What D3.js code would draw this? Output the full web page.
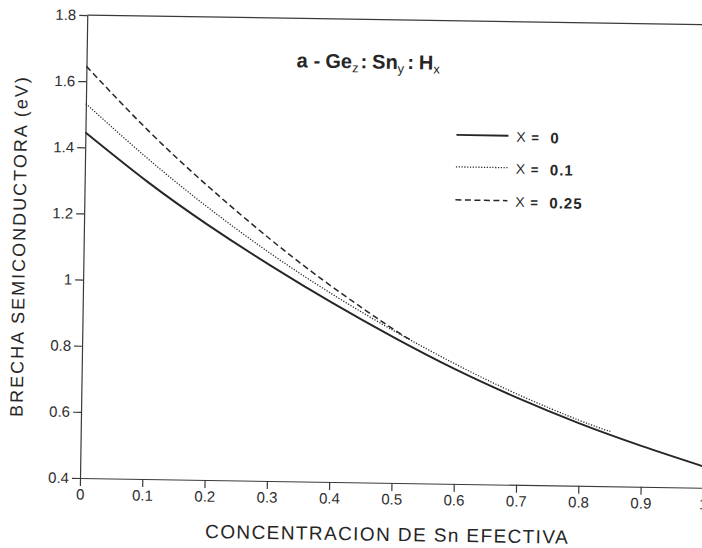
<!DOCTYPE html>
<html>
<head>
<meta charset="utf-8">
<script src="https://cdn.jsdelivr.net/npm/d3@7"></script>
<style>
  body { margin: 0; background: #fff; }
  text { font-family: "Liberation Sans", Arial, sans-serif; fill: #262626; }
  .axis path, .axis line { stroke: #3a3a3a; stroke-width: 1.2; }
  .axis text { font-size: 15px; fill: #2e2e2e; }
</style>
</head>
<body>
<svg id="chart" width="702" height="548"></svg>
<script>
// values
const xTicks = [0, 0.1, 0.2, 0.3, 0.4, 0.5, 0.6, 0.7, 0.8, 0.9, 1];
const xTickLabels = ["0", "0.1", "0.2", "0.3", "0.4", "0.5", "0.6", "0.7", "0.8", "0.9", "1"];
const yTicks = [0.4, 0.6, 0.8, 1, 1.2, 1.4, 1.6, 1.8];
const yTickLabels = ["0.4", "0.6", "0.8", "1", "1.2", "1.4", "1.6", "1.8"];

const snX0 = [0, 0.1, 0.2, 0.3, 0.4, 0.5, 0.6, 0.7, 0.8, 0.9, 1];
const gapX0 = [1.445, 1.30, 1.17, 1.052, 0.942, 0.84, 0.746, 0.663, 0.589, 0.524, 0.465];

const snX01 = [0, 0.1, 0.2, 0.3, 0.4, 0.5, 0.6, 0.7, 0.8, 0.85];
const gapX01 = [1.532, 1.37, 1.222, 1.088, 0.968, 0.86, 0.762, 0.674, 0.598, 0.566];

const snX025 = [0, 0.1, 0.2, 0.3, 0.4, 0.5, 0.53];
const gapX025 = [1.645, 1.455, 1.285, 1.13, 0.99, 0.864, 0.832];

const seriesNames = ["0", "0.1", "0.25"];

const svg = d3.select("#chart");
svg.append("rect").attr("width", 702).attr("height", 548).attr("fill", "#fff");

// the scan is tilted slightly clockwise
const g = svg.append("g").attr("transform", "rotate(0.9, 80, 478)");

const x = d3.scaleLinear().domain([0, 1]).range([80, 703]);
const y = d3.scaleLinear().domain([0.4, 1.8]).range([478, 15]);

g.append("g")
  .attr("class", "axis")
  .attr("transform", "translate(0,478)")
  .call(d3.axisBottom(x).tickValues(xTicks)
    .tickFormat((d, i) => xTickLabels[i])
    .tickSize(8).tickSizeOuter(0).tickPadding(3));

g.append("g")
  .attr("class", "axis")
  .attr("transform", "translate(80,0)")
  .call(d3.axisLeft(y).tickValues(yTicks)
    .tickFormat((d, i) => yTickLabels[i])
    .tickSize(8).tickSizeOuter(0).tickPadding(3));

// top frame line
g.append("line")
  .attr("x1", x(0)).attr("x2", 720)
  .attr("y1", y(1.8)).attr("y2", y(1.8))
  .attr("stroke", "#3a3a3a").attr("stroke-width", 1.2);

const styles = [
  { width: 1.9, dash: null },
  { width: 1.3, dash: "1.2,1.6" },
  { width: 1.5, dash: "6,3.5" }
];

const series = [
  snX0.map((d, i) => [d, gapX0[i]]),
  snX01.map((d, i) => [d, gapX01[i]]),
  snX025.map((d, i) => [d, gapX025[i]])
];

const line = d3.line()
  .x(d => x(d[0]))
  .y(d => y(d[1]))
  .curve(d3.curveNatural);

series.forEach((s, i) => {
  g.append("path")
    .attr("d", line(s))
    .attr("fill", "none")
    .attr("stroke", "#262626")
    .attr("stroke-width", styles[i].width)
    .attr("stroke-dasharray", styles[i].dash);
});

// title a - Gez: Sny: Hx
const title = g.append("text")
  .attr("x", 290).attr("y", 64)
  .attr("font-size", 20).attr("font-weight", "bold");
title.append("tspan").text("a");
title.append("tspan").attr("dx", 6).text("-");
title.append("tspan").attr("dx", 5).text("Ge");
title.append("tspan").attr("dy", 4).attr("font-size", 13).attr("font-weight", "normal").text("z");
title.append("tspan").attr("dy", -4).attr("dx", 2).text(":");
title.append("tspan").attr("dx", 5).text("Sn");
title.append("tspan").attr("dy", 4).attr("font-size", 13).attr("font-weight", "normal").text("y");
title.append("tspan").attr("dy", -4).attr("dx", 3).text(":");
title.append("tspan").attr("dx", 5).text("H");
title.append("tspan").attr("dy", 4).attr("font-size", 13).attr("font-weight", "normal").text("x");

// legend
const legendY = [129, 161, 194];
seriesNames.forEach((name, i) => {
  const row = g.append("g").attr("transform", `translate(451,${legendY[i]})`);
  row.append("line")
    .attr("x1", 0).attr("x2", 52)
    .attr("stroke", "#262626")
    .attr("stroke-width", styles[i].width)
    .attr("stroke-dasharray", styles[i].dash);
  row.append("text").attr("x", 60).attr("y", 6)
    .attr("font-size", 14).text("X");
  row.append("text").attr("x", 75).attr("y", 6)
    .attr("font-size", 13).attr("font-weight", "bold").text("=");
  row.append("text").attr("x", 94).attr("y", 7)
    .attr("font-size", 15).attr("font-weight", "bold")
    .attr("letter-spacing", 1).text(name);
});

// axis titles
g.append("text")
  .attr("transform", "translate(21.5,247) rotate(-90)")
  .attr("text-anchor", "middle")
  .attr("font-size", 18)
  .attr("letter-spacing", 2)
  .text("BRECHA SEMICONDUCTORA  (eV)");

g.append("text")
  .attr("x", 388).attr("y", 536)
  .attr("text-anchor", "middle")
  .attr("font-size", 19)
  .attr("letter-spacing", 1.4)
  .text("CONCENTRACION DE Sn EFECTIVA");
</script>
</body>
</html>
